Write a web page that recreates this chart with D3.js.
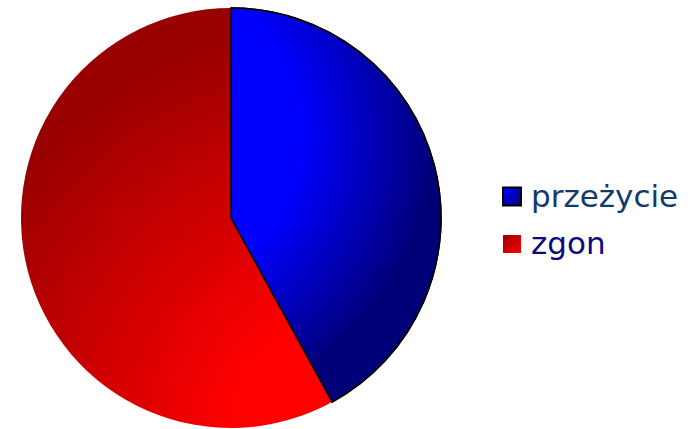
<!DOCTYPE html>
<html><head><meta charset="utf-8">
<script src="https://cdn.jsdelivr.net/npm/d3@7"></script>
<style>body{margin:0;background:#fff}svg{display:block}</style>
</head><body>
<svg id="c" width="695" height="429"></svg>
<script>
const categories = ["przeżycie", "zgon"];
const values = [42, 58];
const labelColors = ["#133a6c", "#0b0b80"];

const svg = d3.select("#c");
const defs = svg.append("defs");
const cx = 231, cy = 218, r = 210;

// gradient coordinates are relative to the pie centre (paths drawn in translated group)
const g1 = defs.append("radialGradient").attr("id","gBlue").attr("gradientUnits","userSpaceOnUse")
  .attr("cx", -81).attr("cy", -83).attr("r", 300);
g1.append("stop").attr("offset","0.5").attr("stop-color","#0000ff");
g1.append("stop").attr("offset","0.95").attr("stop-color","#000078");
const g2 = defs.append("radialGradient").attr("id","gRed").attr("gradientUnits","userSpaceOnUse")
  .attr("cx", 104).attr("cy", r - 3).attr("r", 400);
g2.append("stop").attr("offset","0.25").attr("stop-color","#ff0000");
g2.append("stop").attr("offset","1").attr("stop-color","#990000");
const g3 = defs.append("linearGradient").attr("id","gBlueL").attr("x1","0").attr("y1","0").attr("x2","1").attr("y2","1");
g3.append("stop").attr("offset","0").attr("stop-color","#0000ff");
g3.append("stop").attr("offset","1").attr("stop-color","#000080");
const g4 = defs.append("linearGradient").attr("id","gRedL").attr("x1","0").attr("y1","0").attr("x2","1").attr("y2","1");
g4.append("stop").attr("offset","0").attr("stop-color","#990000");
g4.append("stop").attr("offset","1").attr("stop-color","#ff0000");

const fills = ["url(#gBlue)", "url(#gRed)"];
const legendFills = ["url(#gBlueL)", "url(#gRedL)"];
const strokes = ["#000", "none"];

const pie = d3.pie().sort(null)(values);
const arc = d3.arc().innerRadius(0).outerRadius(r);
const pg = svg.append("g").attr("transform", `translate(${cx},${cy})`);
pg.selectAll("path").data(pie).join("path")
  .attr("d", arc)
  .attr("fill", (d,i) => fills[i])
  .attr("stroke", (d,i) => strokes[i])
  .attr("stroke-width", 1.5)
  .attr("stroke-linejoin","round");
pg.append("path").datum(pie[0]).attr("d", arc).attr("fill","none").attr("stroke","#000").attr("stroke-width",1.5);

const lg = svg.append("g");
const ly = d3.scalePoint().domain(categories).range([196.5, 244]);
categories.forEach((c,i) => {
  const y = ly(c);
  lg.append("rect").attr("x", 503).attr("y", y - 9).attr("width", 18).attr("height", 18)
    .attr("fill", legendFills[i])
    .attr("stroke", strokes[i]).attr("stroke-width", 2);
  lg.append("text").attr("x", 531).attr("y", y + 10)
    .attr("font-family", "DejaVu Sans, Verdana, sans-serif")
    .attr("font-size", 31)
    .attr("fill", labelColors[i])
    .text(c);
});
</script>
</body></html>
